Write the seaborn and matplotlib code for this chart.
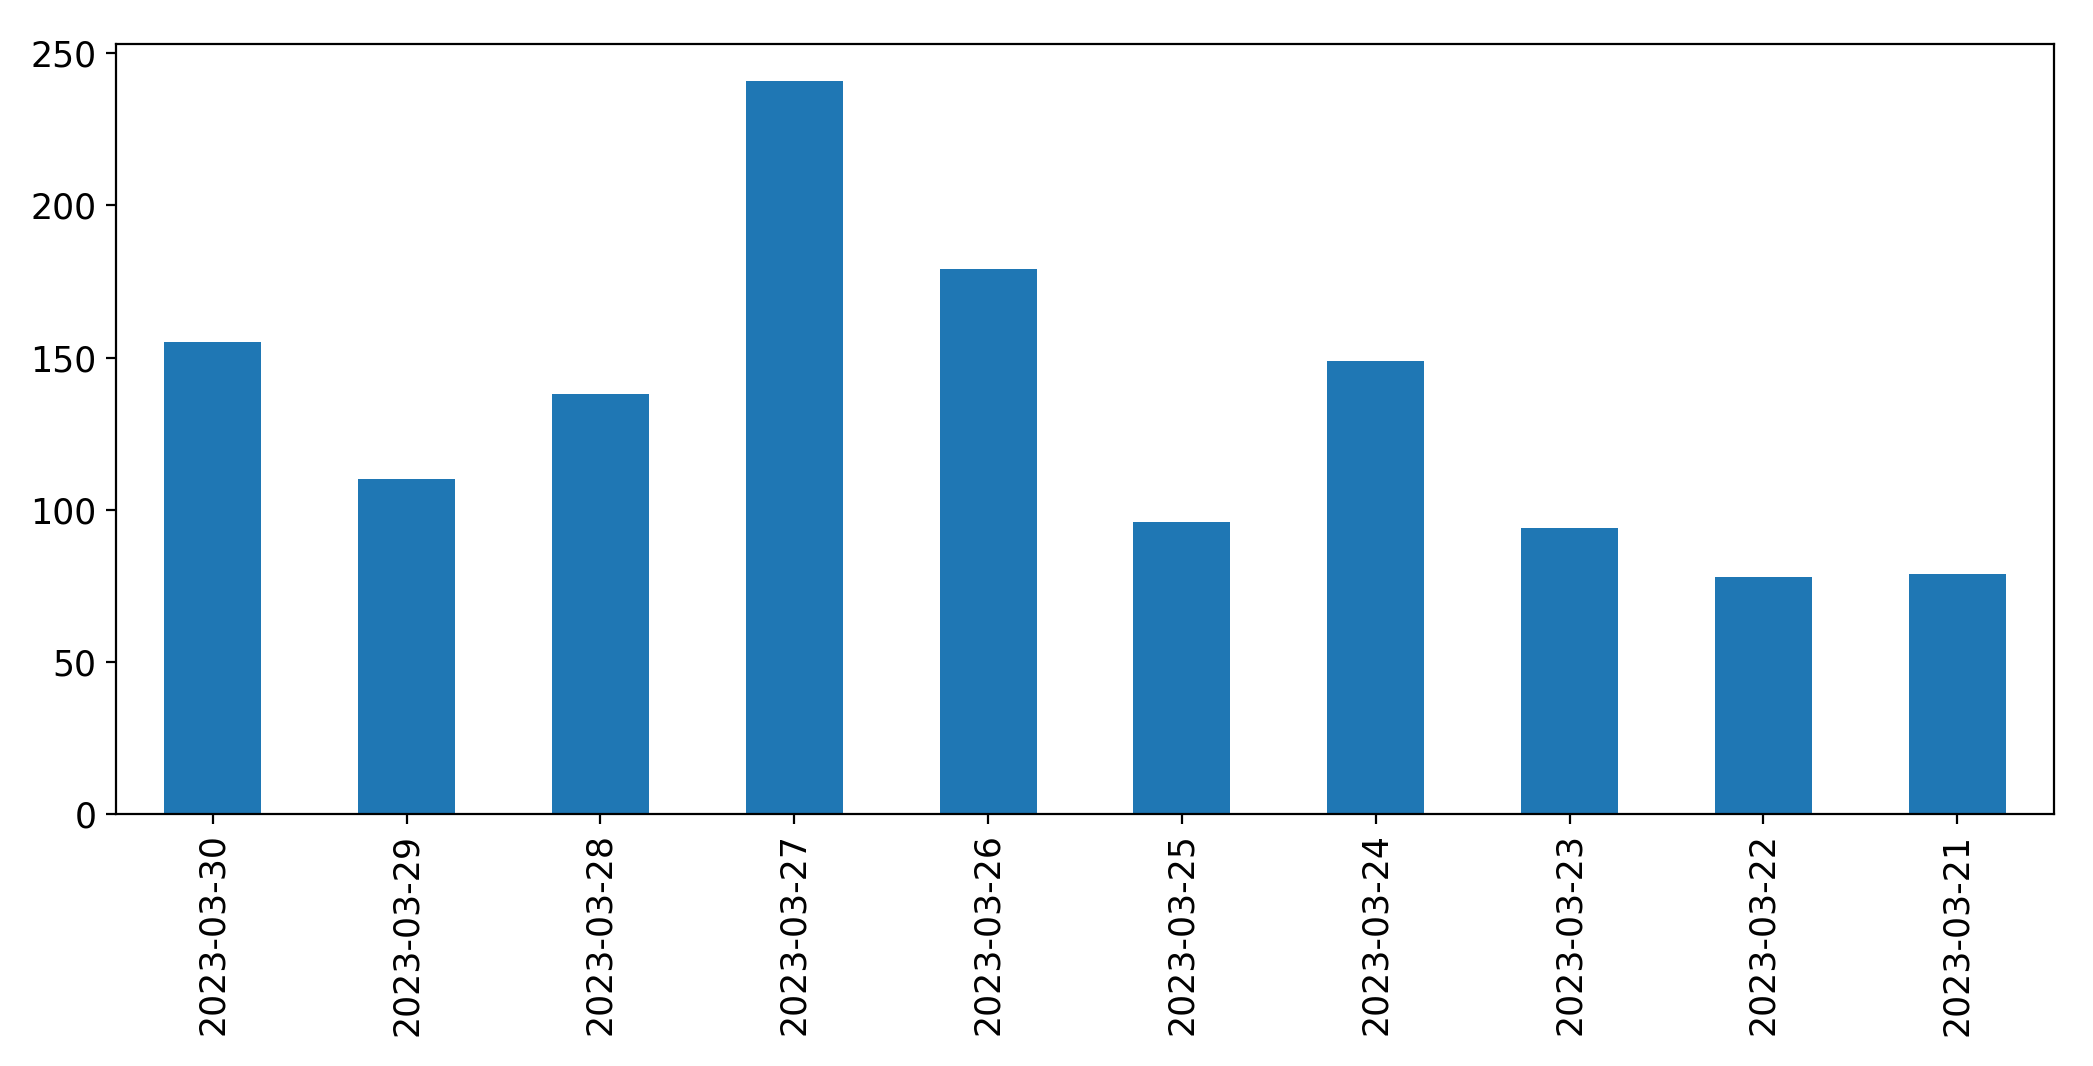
import matplotlib
matplotlib.use("Agg")
import seaborn as sns
import matplotlib.pyplot as plt

# данные с графика
dates = ["2023-03-30", "2023-03-29", "2023-03-28", "2023-03-27", "2023-03-26",
         "2023-03-25", "2023-03-24", "2023-03-23", "2023-03-22", "2023-03-21"]
counts = [155, 110, 138, 241, 179, 96, 149, 94, 78, 79]

plt.rcParams['font.size'] = 12.5

fig, ax = plt.subplots(figsize=(10.465, 5.33), dpi=200)
fig.subplots_adjust(left=0.0554, right=0.9814, top=0.9587, bottom=0.2364)

sns.barplot(x=dates, y=counts, order=dates, color='#1f77b4', saturation=1,
            width=0.5, ax=ax)
ax.set_xlim(-0.5, len(dates) - 0.5)
ax.tick_params(axis='x', labelrotation=90)
ax.set_xlabel('')
ax.set_ylabel('')

fig.savefig('out.png', dpi=200)
